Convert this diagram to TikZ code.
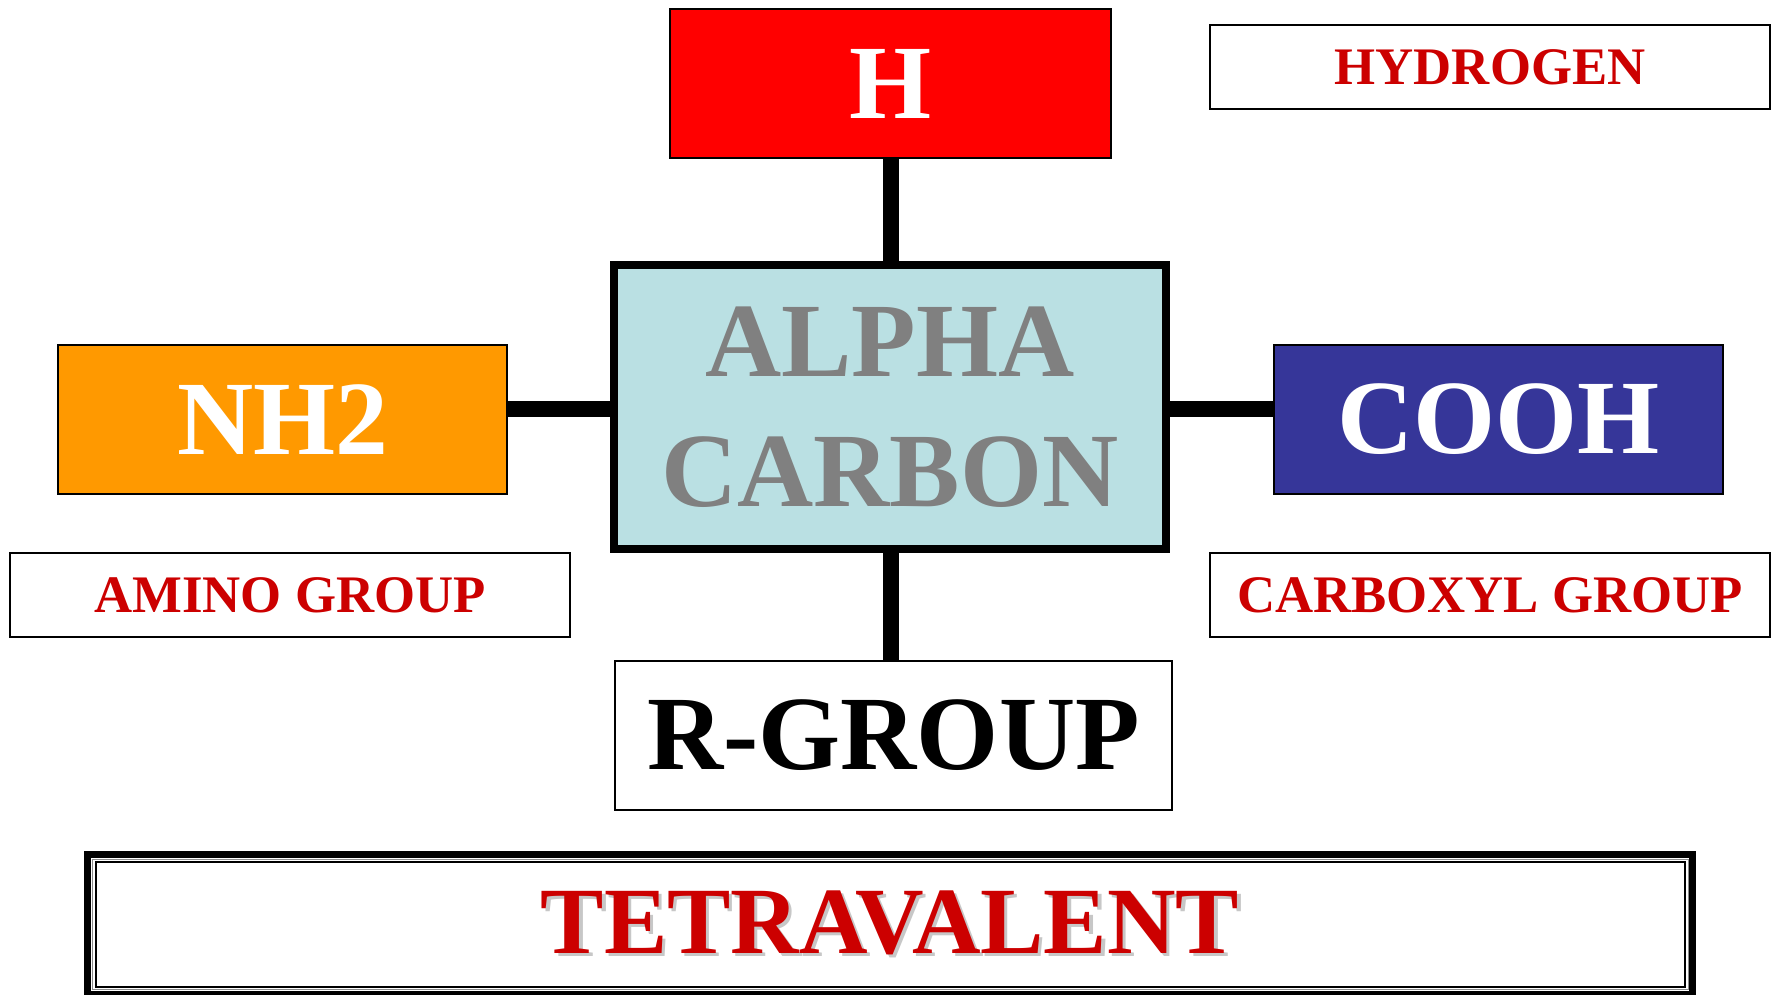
\documentclass[tikz,border=0pt]{standalone}
\usepackage{fontspec}
\setmainfont{Liberation Serif}
\usepackage{xcolor}
\usetikzlibrary{positioning}

\definecolor{hred}{HTML}{FF0000}
\definecolor{nhorange}{HTML}{FF9900}
\definecolor{coblue}{HTML}{363699}
\definecolor{alphacyan}{HTML}{BAE0E3}
\definecolor{labelred}{HTML}{CC0000}
\definecolor{alphagray}{HTML}{808080}

\newcommand{\shadowtext}[1]{\makebox[0pt][l]{\hspace{0.9pt}\raisebox{-0.9pt}{\textcolor{black!22}{#1}}}#1}

\tikzset{
  groupbox/.style={draw=black, line width=2*0.2845pt, minimum width=449*0.2845pt, minimum height=149*0.2845pt,
    inner sep=0pt, text=white, font=\bfseries\fontsize{30}{36}\selectfont},
  namebox/.style={draw=black, line width=2*0.2845pt, fill=white, minimum width=560*0.2845pt, minimum height=84*0.2845pt,
    inner sep=0pt, text=labelred, font=\bfseries\fontsize{15}{18}\selectfont},
  bond/.style={line width=16*0.2845pt, black}
}

\begin{document}
\begin{tikzpicture}[x=0.01cm, y=-0.01cm]

\useasboundingbox (0,0) rectangle (1777,994);

%%%%%
%% centre
%%%%%
\node[draw=black, line width=8*0.2845pt, fill=alphacyan, minimum width=552*0.2845pt, minimum height=284*0.2845pt,
  inner sep=0pt, align=center, text=alphagray, font=\bfseries\fontsize{30}{37}\selectfont] (alpha) at (890,407) {ALPHA\\CARBON};

%%%%%
%% the four groups
%%%%%
\node[groupbox, fill=hred, minimum width=441*0.2845pt] (hbox) at (890.5,83.5) {H};
\node[groupbox, fill=nhorange] (nh2) at (282.5,419.5) {NH2};
\node[groupbox, fill=coblue] (cooh) at (1498.5,419.5) {COOH};
\node[groupbox, fill=white, text=black, minimum width=557*0.2845pt] (rgroup) at (893.5,735.5) {R-GROUP};

\draw[bond] (hbox.south -| 891,0) -- (alpha.north -| 891,0);
\draw[bond] (nh2.east |- 0,409) -- (alpha.west |- 0,409);
\draw[bond] (alpha.east |- 0,409) -- (cooh.west |- 0,409);
\draw[bond] (alpha.south -| 891,0) -- (rgroup.north -| 891,0);

%%%%%
%% names
%%%%%
\node[namebox] (hname) at (1490,67) {HYDROGEN};
\node[namebox] (aminoname) at (290,595) {AMINO GROUP};
\node[namebox] (carboxylname) at (1490,595) {CARBOXYL GROUP};

%%%%%
%% tetravalent
%%%%%
\node[draw=black, line width=7*0.2845pt, fill=white, minimum width=1605*0.2845pt, minimum height=140*0.2845pt,
  inner sep=0pt, text=labelred, font=\bfseries\fontsize{27}{32}\selectfont] (tetra) at (890,924.4) {\shadowtext{TETRAVALENT}};
\draw[black!45, line width=1*0.2845pt] (92.5,859.5) rectangle (1688,989.5);
\draw[black, line width=2.3*0.2845pt] (95.7,862.2) rectangle (1685.3,986.7);

\end{tikzpicture}
\end{document}
